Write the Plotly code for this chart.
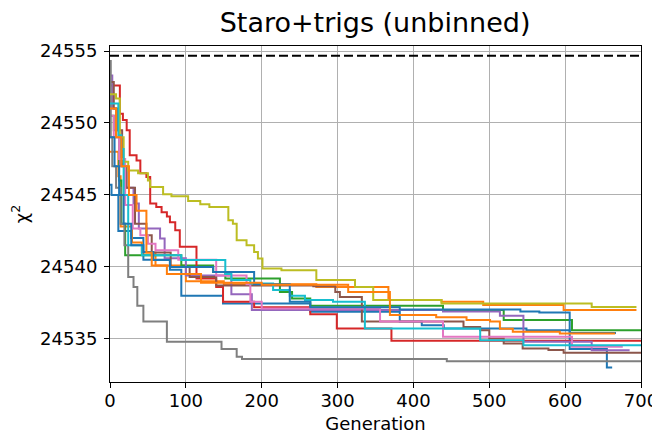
import plotly.graph_objects as go

TITLE = "Staro+trigs (unbinned)"
REF_CHI2 = 24554.67
X_TICKS = [0, 100, 200, 300, 400, 500, 600, 700]
Y_TICKS = [24535, 24540, 24545, 24550, 24555]

# Each run: generation where a new best chi^2 is reached, and that chi^2 value
gen_blue = [0, 2, 11, 28, 44, 79, 94, 149, 264, 382, 411, 440, 549, 606, 655, 662]
chi_blue = [24545.7, 24545.0, 24542.5, 24542.0, 24540.5, 24539.8, 24538.0, 24537.46, 24536.88, 24536.2, 24535.95, 24535.72, 24535.6, 24534.3, 24533.0, 24533.0]

gen_orange = [0, 11, 14, 29, 42, 60, 100, 150, 272, 367, 437, 492, 598, 694]
chi_orange = [24548.0, 24546.3, 24542.8, 24541.7, 24541.0, 24540.1, 24539.0, 24538.8, 24538.6, 24537.7, 24537.57, 24537.35, 24537.0, 24537.0]

gen_green = [0, 5, 12, 15, 20, 94, 136, 152, 224, 240, 264, 439, 519, 609, 700]
chi_green = [24550.5, 24549.5, 24546.0, 24543.0, 24540.8, 24540.1, 24539.65, 24539.2, 24538.26, 24537.8, 24537.3, 24537.0, 24536.3, 24535.6, 24535.6]

gen_red = [0, 13, 17, 22, 26, 35, 40, 48, 53, 61, 68, 75, 79, 86, 92, 114, 140, 149, 190, 264, 299, 371, 700]
chi_red = [24552.6, 24550.65, 24550.2, 24549.5, 24547.76, 24547.4, 24546.5, 24546.25, 24544.4, 24544.17, 24543.8, 24543.5, 24543.1, 24542.55, 24541.4, 24539.2, 24538.6, 24537.57, 24537.2, 24536.7, 24535.72, 24534.86, 24534.86]

gen_purple = [0, 3, 8, 13, 20, 31, 38, 66, 72, 100, 160, 187, 439, 514, 545, 635, 685]
chi_purple = [24553.3, 24551.0, 24549.0, 24547.0, 24545.5, 24544.4, 24542.67, 24541.97, 24540.6, 24539.4, 24538.1, 24537.0, 24536.9, 24536.6, 24534.8, 24534.2, 24534.2]

gen_brown = [0, 5, 10, 16, 22, 33, 48, 55, 80, 105, 140, 268, 297, 303, 332, 466, 488, 500, 519, 544, 578, 598, 700]
chi_brown = [24552.85, 24551.0, 24549.5, 24547.0, 24545.5, 24543.0, 24542.2, 24541.0, 24540.0, 24539.3, 24538.7, 24538.66, 24538.26, 24537.9, 24536.2, 24535.83, 24535.6, 24535.03, 24534.68, 24534.33, 24534.22, 24534.03, 24534.03]

gen_pink = [0, 5, 12, 20, 30, 40, 50, 60, 90, 140, 180, 185, 200, 356, 439, 609, 676]
chi_pink = [24550.5, 24549.0, 24547.5, 24544.3, 24542.67, 24542.2, 24541.6, 24541.16, 24540.5, 24539.4, 24538.8, 24537.57, 24537.1, 24536.2, 24535.14, 24534.45, 24534.45]

gen_gray = [0, 1, 3, 8, 14, 19, 24, 31, 36, 44, 75, 147, 167, 174, 444, 700]
chi_gray = [24554.3, 24549.0, 24547.0, 24545.5, 24543.0, 24541.5, 24539.3, 24538.6, 24537.3, 24536.2, 24534.8, 24534.3, 24533.75, 24533.6, 24533.45, 24533.45]

gen_olive = [0, 8, 13, 18, 24, 37, 50, 53, 70, 81, 103, 119, 131, 156, 162, 167, 180, 190, 195, 201, 226, 272, 323, 347, 437, 635, 694]
chi_olive = [24552.0, 24551.7, 24549.0, 24547.3, 24546.7, 24546.5, 24546.0, 24545.56, 24545.05, 24544.9, 24544.58, 24544.35, 24544.17, 24543.24, 24543.0, 24541.85, 24541.5, 24541.04, 24540.58, 24539.89, 24539.77, 24539.08, 24538.6, 24537.69, 24537.46, 24537.22, 24537.22]

gen_cyan = [0, 11, 15, 18, 24, 42, 94, 152, 160, 185, 215, 237, 257, 294, 336, 488, 545, 700]
chi_cyan = [24551.35, 24549.15, 24548.2, 24545.0, 24541.5, 24540.8, 24540.47, 24539.5, 24539.08, 24538.85, 24538.4, 24538.0, 24537.7, 24537.57, 24535.72, 24534.9, 24534.56, 24534.56]

gen_blue2 = [0, 6, 12, 18, 28, 44, 57, 79, 136, 190, 237, 264, 382, 541, 566, 606, 667]
chi_blue2 = [24549.0, 24547.0, 24545.0, 24543.0, 24541.5, 24541.04, 24540.47, 24540.0, 24539.65, 24538.8, 24537.57, 24537.2, 24537.04, 24536.9, 24536.83, 24535.4, 24535.4]

gen_orange2 = [0, 8, 15, 25, 35, 48, 55, 75, 120, 200, 314, 369, 430, 470, 501, 514, 531, 593, 666]
chi_orange2 = [24551.0, 24549.0, 24547.0, 24545.0, 24543.9, 24541.0, 24540.1, 24539.5, 24538.9, 24538.75, 24538.26, 24536.65, 24536.5, 24536.3, 24536.2, 24535.7, 24535.5, 24535.37, 24535.37]

runs = [
    (gen_blue, chi_blue, "#1f77b4"),
    (gen_orange, chi_orange, "#ff7f0e"),
    (gen_green, chi_green, "#2ca02c"),
    (gen_red, chi_red, "#d62728"),
    (gen_purple, chi_purple, "#9467bd"),
    (gen_brown, chi_brown, "#8c564b"),
    (gen_pink, chi_pink, "#e377c2"),
    (gen_gray, chi_gray, "#7f7f7f"),
    (gen_olive, chi_olive, "#bcbd22"),
    (gen_cyan, chi_cyan, "#17becf"),
    (gen_blue2, chi_blue2, "#1f77b4"),
    (gen_orange2, chi_orange2, "#ff7f0e"),
]

fig = go.Figure()
for g, c, col in runs:
    fig.add_trace(go.Scatter(x=g, y=c, mode="lines", line=dict(color=col, width=2, shape="hv"),
                             showlegend=False, hoverinfo="skip"))

fig.add_hline(y=REF_CHI2, line=dict(color="black", width=2, dash="9px,4px"))

font = "DejaVu Sans"
axis_common = dict(
    showline=True, linecolor="black", linewidth=1.1, mirror=True,
    ticks="outside", ticklen=5, tickwidth=1.1, tickcolor="black",
    showgrid=True, gridcolor="#b0b0b0", gridwidth=1.1, zeroline=False,
    tickfont=dict(family=font, size=18, color="black"), automargin=False,
)
# page body has an 8px margin, so the figure is sized to fill the 660x435 window
fig.update_layout(
    width=652, height=427,
    margin=dict(l=102, r=19, t=38, b=53),
    paper_bgcolor="white", plot_bgcolor="white",
    title=dict(text=TITLE, x=0.563, xanchor="center", y=0.966, yanchor="middle",
               font=dict(family=font, size=27, color="black")),
    xaxis=dict(range=[0, 700], tickvals=X_TICKS, ticklabelstandoff=-3,
               title=dict(text="Generation", standoff=7,
               font=dict(family=font, size=18, color="black")), **axis_common),
    yaxis=dict(range=[24532.0, 24555.35], tickvals=Y_TICKS, tickformat="d", ticklabelstandoff=3,
               title=dict(text="χ<sup>2</sup>", standoff=9,
               font=dict(family=font, size=18, color="black")), **axis_common),
)

fig.write_html("out.html")
